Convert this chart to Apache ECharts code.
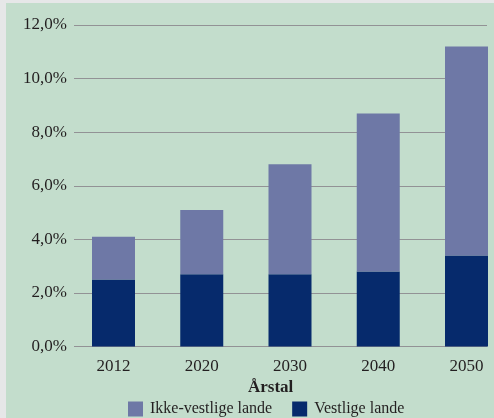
<!DOCTYPE html>
<html><head><meta charset="utf-8">
<script src="https://cdn.jsdelivr.net/npm/echarts@6/dist/echarts.min.js"></script>
<style>html,body{margin:0;padding:0;background:#e6e7e8;}#c{width:494px;height:418px;}</style>
</head><body><div id="c"></div>
<script>
const categories = ['2012','2020','2030','2040','2050'];
const vestlige = [2.5, 2.7, 2.7, 2.8, 3.4];
const ikkeVestlige = [1.6, 2.4, 4.1, 5.9, 7.8];
const yMin = 0, yMax = 12, yStep = 2;
const font = '"Liberation Serif", "DejaVu Serif", serif';
const textColor = '#231f20';
const chart = echarts.init(document.getElementById('c'), null, {renderer:'canvas'});
const fmt = v => v.toFixed(1).replace('.', ',') + '%';
chart.setOption({
  backgroundColor: '#e6e7e8',
  animation: false,
  graphic: [{type:'rect', z:-10, shape:{x:6,y:3,width:488,height:415}, style:{fill:'#c3ddcc'}}],
  title: {text:'Årstal', left:243, top:374, textStyle:{fontFamily:font, fontSize:17, fontWeight:'bold', color:textColor}},
  legend: {
    left: 123, top: 396, itemWidth:15, itemHeight:15, itemGap:20,
    icon: 'rect',
    textStyle:{fontFamily:font, fontSize:16, color:textColor, padding:[0,0,0,2]},
    data:['Ikke-vestlige lande','Vestlige lande']
  },
  grid: [
    {left:113.5, top:25, width:353, height:321.6},
    {left:74, top:25, width:413, height:321.6}
  ],
  xAxis: [
    {type:'category', gridIndex:0, data:categories, boundaryGap:false,
     axisLine:{show:false}, axisTick:{show:false},
     axisLabel:{fontFamily:font, fontSize:17, color:textColor, margin:11}},
    {type:'category', gridIndex:1, data:categories, show:false}
  ],
  yAxis: [
    {type:'value', gridIndex:0, min:yMin, max:yMax, interval:yStep,
     splitLine:{show:false}, axisLine:{show:false}, axisTick:{show:false},
     axisLabel:{show:false}},
    {type:'value', gridIndex:1, min:yMin, max:yMax, interval:yStep,
     splitLine:{show:true, lineStyle:{color:'#929295', width:1}},
     axisLine:{show:false}, axisTick:{show:false},
     axisLabel:{fontFamily:font, fontSize:17, color:textColor, margin:7, formatter:fmt}}
  ],
  series: [
    {name:'Vestlige lande', type:'bar', stack:'a', xAxisIndex:0, yAxisIndex:0, data:vestlige, barWidth:43, itemStyle:{color:'#062a6c'}},
    {name:'Ikke-vestlige lande', type:'bar', stack:'a', xAxisIndex:0, yAxisIndex:0, data:ikkeVestlige, barWidth:43, itemStyle:{color:'#6e78a6'}}
  ]
});
</script></body></html>
